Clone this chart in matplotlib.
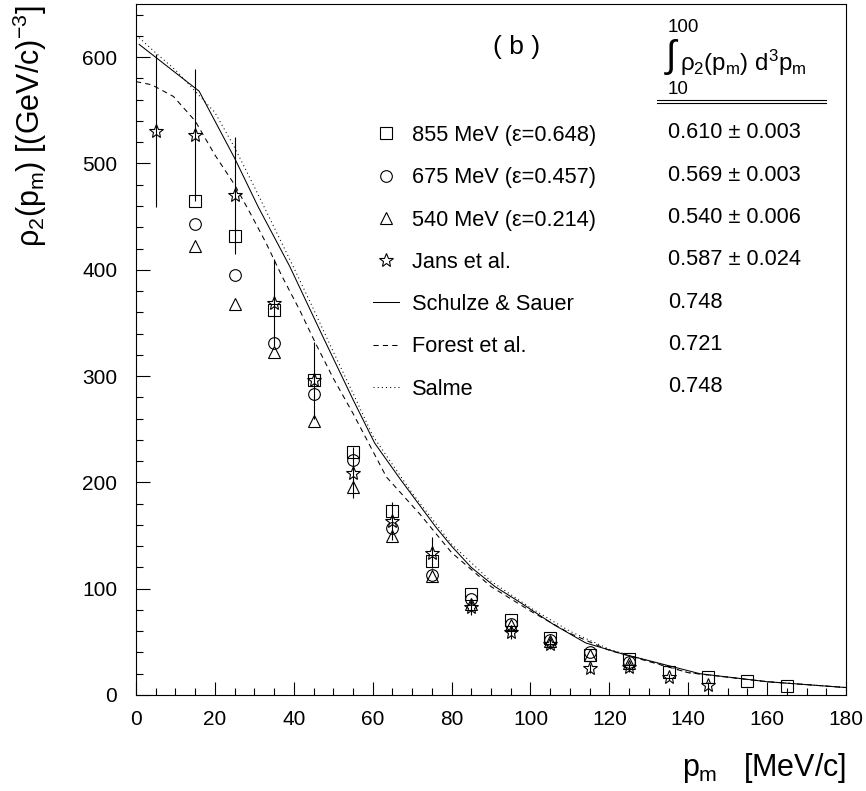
import matplotlib
matplotlib.use("Agg")
import matplotlib.pyplot as plt
from matplotlib.ticker import MultipleLocator

plt.rcParams["font.family"] = ["Liberation Sans", "DejaVu Sans"]
plt.rcParams["mathtext.fontset"] = "custom"
plt.rcParams["mathtext.rm"] = "Liberation Sans"
plt.rcParams["mathtext.it"] = "Liberation Sans"
plt.rcParams["mathtext.bf"] = "Liberation Sans"

# ---- data ----
p_855 = [15, 25, 35, 45, 55, 65, 75, 85, 95, 105, 115, 125, 135, 145, 155, 165]
rho_855 = [465, 432, 362, 296, 229, 173, 126, 95, 71, 54, 38, 34, 22, 17, 13, 8]

p_675 = [15, 25, 35, 45, 55, 65, 75, 85, 95, 105, 115, 125]
rho_675 = [443, 395, 331, 283, 221, 157, 113, 90, 67, 52, 40, 31]

p_540 = [15, 25, 35, 45, 55, 65, 75, 85, 95, 105, 115, 125]
rho_540 = [422, 368, 323, 258, 196, 150, 112, 86, 66, 51, 38, 30]

p_jans = [5, 15, 25, 35, 45, 55, 65, 75, 85, 95, 105, 115, 125, 135, 145]
rho_jans = [531, 527, 470, 369, 296, 209, 164, 134, 83, 59, 48, 25, 26, 17, 9]
err_jans = [72, 62, 55, 41, 36, 24, 18, 15, 8, 6, 5, 4, 4, 3, 3]

p_ss = [0.8, 16, 25, 31, 39, 47, 55, 60.5, 67, 72, 76, 80, 85, 91, 97, 106,
        114, 123, 143, 160, 180]
rho_ss = [612, 568, 505, 459, 403, 340, 278, 237, 203, 178, 158, 140, 120,
          102, 88, 66, 49, 39, 20, 12.5, 7]

p_forest = [0, 4, 9.5, 15, 20, 25, 29, 33, 37, 41.5, 45.5, 50, 55, 63.5, 72,
            80, 90, 100, 110, 120, 140, 160, 180]
rho_forest = [577, 574, 563, 540, 508, 480, 453, 425, 394, 362, 331, 298, 265,
              205, 170, 134, 102, 79, 58, 42, 21, 12.5, 7]

p_salme = [0, 5, 10, 15, 20, 25, 30, 35, 40, 45, 50, 55, 60, 70, 80, 90, 100,
           110, 120, 140, 160, 180]
rho_salme = [621, 604, 588, 568, 548, 515, 478, 440, 402, 363, 323, 284, 244,
             190, 142, 107, 82, 60, 43, 21, 12.5, 7]

labels = ["855 MeV (\u03b5=0.648)", "675 MeV (\u03b5=0.457)",
          "540 MeV (\u03b5=0.214)", "Jans et al.", "Schulze & Sauer",
          "Forest et al.", "Salme"]
integrals = ["0.610 \u00b1 0.003", "0.569 \u00b1 0.003", "0.540 \u00b1 0.006",
             "0.587 \u00b1 0.024", "0.748", "0.721", "0.748"]

W, H = 866, 791


def px(x, y):
    return x / W, 1 - y / H


fig = plt.figure(figsize=(W / 100, H / 100), dpi=100)
ax = fig.add_axes([136 / W, 1 - 695 / H, 710 / W, 691 / H])

lw = 0.75
mk = dict(mfc="none", mec="black", mew=0.8, ls="none", color="black")
h_ss, = ax.plot(p_ss, rho_ss, color="black", lw=lw)
h_fo, = ax.plot(p_forest, rho_forest, color="black", lw=lw, ls=(0, (5, 4)))
h_sa, = ax.plot(p_salme, rho_salme, color="black", lw=lw, ls=(0, (1, 3)))

ax.errorbar(p_jans, rho_jans, yerr=err_jans, fmt="none", ecolor="black",
            elinewidth=0.8, capsize=0)
h1, = ax.plot(p_855, rho_855, marker="s", ms=8.4, **mk)
h2, = ax.plot(p_675, rho_675, marker="o", ms=8.4, **mk)
h3, = ax.plot(p_540, rho_540, marker="^", ms=9, **mk)
h4, = ax.plot(p_jans, rho_jans, marker="*", ms=10.5, **mk)

ax.set_xlim(0, 180)
ax.set_ylim(0, 650)
ax.xaxis.set_major_locator(MultipleLocator(20))
ax.xaxis.set_minor_locator(MultipleLocator(5))
ax.yaxis.set_major_locator(MultipleLocator(100))
ax.yaxis.set_minor_locator(MultipleLocator(20))
ax.tick_params(which="both", direction="in", top=False, right=False,
               labelsize=15, width=0.8)
ax.tick_params(axis="x", which="major", length=9.5, pad=10.5)
ax.tick_params(axis="x", which="minor", length=5)
ax.tick_params(axis="y", which="major", length=10, pad=13.5)
ax.tick_params(axis="y", which="minor", length=5)
for s in ax.spines.values():
    s.set_linewidth(0.8)

fig.text(*px(30, 5), r"$\rho_2(p_m)$ [(GeV/c)$^{-3}$]", rotation=90,
         ha="center", va="top", fontsize=22)
fig.text(*px(846, 768), r"$p_m$   [MeV/c]", ha="right", va="center",
         fontsize=22)

fig.text(*px(517, 47), "( b )", ha="center", va="center", fontsize=19,
         fontweight="light")

leg = ax.legend([h1, h2, h3, h4, h_ss, h_fo, h_sa], labels,
                loc="upper left", bbox_to_anchor=px(373, 125),
                bbox_transform=fig.transFigure, frameon=False, fontsize=15.7,
                borderpad=0, borderaxespad=0, handlelength=1.2,
                handletextpad=0.6, labelspacing=0.975, numpoints=1)

row_y = [133 + 42.3 * i for i in range(len(integrals))]
for y, t in zip(row_y, integrals):
    fig.text(*px(668, y), t, ha="left", va="center", fontsize=15.7)

# integral header
fig.text(*px(668, 27), "100", ha="left", va="center", fontsize=13.5)
fig.text(*px(664, 57), r"$\int$", ha="left", va="center", fontsize=27)
fig.text(*px(680, 63), r"$\rho_2(p_m)$ d$^3p_m$", ha="left", va="center",
         fontsize=17.4)
fig.text(*px(668, 89), "10", ha="left", va="center", fontsize=13.5)
for yy in (100, 103):
    fig.add_artist(plt.Line2D([657 / W, 826 / W], [1 - yy / H, 1 - yy / H],
                              transform=fig.transFigure, color="black",
                              lw=0.8))

fig.savefig("out.png", dpi=100)
